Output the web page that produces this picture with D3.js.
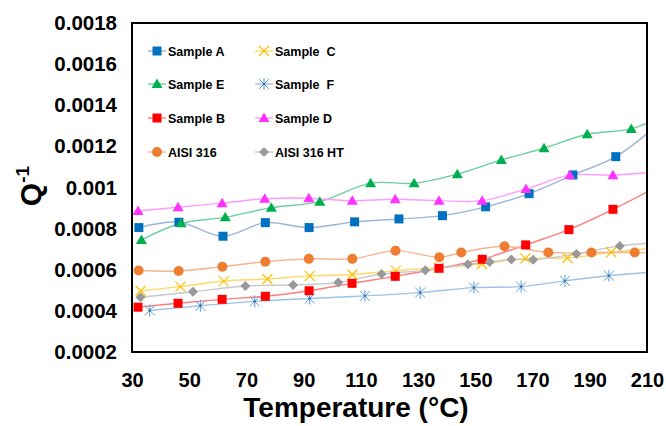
<!DOCTYPE html>
<html><head><meta charset="utf-8">
<script src="https://cdn.jsdelivr.net/npm/d3@7"></script>
<style>body{margin:0;background:#fff}svg{display:block}</style>
</head><body>
<svg id="c" width="666" height="426"></svg>
<script>
// ---- data ----
const yTicks = [0.0002, 0.0004, 0.0006, 0.0008, 0.001, 0.0012, 0.0014, 0.0016, 0.0018];
const yTickLabels = ["0.0002","0.0004","0.0006","0.0008","0.001","0.0012","0.0014","0.0016","0.0018"];
const xTicks = [30, 50, 70, 90, 110, 130, 150, 170, 190, 210];

const seriesNames = ["Sample A", "Sample  C", "Sample E", "Sample  F", "Sample B", "Sample D", "AISI 316", "AISI 316 HT"];

const sampleA_T = [32.4, 46.4, 61.8, 76.6, 91.9, 107.8, 123.3, 138.5, 153.6, 168.8, 184.1, 199.1, 215];
const sampleA_Q = [0.000805, 0.000831, 0.000763, 0.000829, 0.000805, 0.000833, 0.000847, 0.000863, 0.000906, 0.00097, 0.001061, 0.00115, 0.00132];

const sampleC_T = [33.0, 46.9, 62.1, 77.3, 92.1, 107.0, 122.2, 137.3, 152.3, 167.5, 182.2, 197.5, 215];
const sampleC_Q = [0.000498, 0.000518, 0.000545, 0.000555, 0.00057, 0.000577, 0.000596, 0.000611, 0.000628, 0.000655, 0.000657, 0.000685, 0.000708];

const sampleE_T = [33.3, 47.2, 62.6, 78.7, 95.6, 113.4, 128.6, 143.7, 159.1, 174.0, 189.1, 204.5, 215];
const sampleE_Q = [0.000745, 0.000826, 0.000855, 0.000902, 0.000931, 0.001021, 0.001021, 0.001065, 0.001134, 0.001191, 0.001259, 0.001285, 0.001344];

const sampleF_T = [36.2, 53.9, 72.9, 92.1, 111.4, 130.7, 149.5, 166.0, 181.3, 196.7, 215];
const sampleF_Q = [0.000402, 0.000425, 0.000446, 0.00046, 0.000473, 0.000489, 0.000513, 0.000518, 0.000546, 0.000571, 0.000592];

const sampleB_T = [32.1, 46.1, 61.5, 76.6, 91.9, 106.9, 122.0, 137.3, 152.4, 167.6, 182.7, 198.1, 215];
const sampleB_Q = [0.000418, 0.000437, 0.000456, 0.000471, 0.000498, 0.000534, 0.000568, 0.000607, 0.000651, 0.000721, 0.000795, 0.000894, 0.001015];

const sampleD_T = [32.1, 46.1, 61.5, 76.4, 91.8, 107.0, 122.0, 137.3, 152.4, 167.7, 183.0, 198.1, 215];
const sampleD_Q = [0.000886, 0.000904, 0.000924, 0.000945, 0.000948, 0.000935, 0.000943, 0.000936, 0.000936, 0.000993, 0.00106, 0.00106, 0.001078];

const aisi316_T = [32.3, 46.3, 61.6, 76.6, 91.8, 107.0, 122.1, 137.4, 145.1, 160.2, 175.5, 190.6, 205.7, 215];
const aisi316_Q = [0.000596, 0.000594, 0.000615, 0.000639, 0.000653, 0.000653, 0.000693, 0.000661, 0.000684, 0.000714, 0.000684, 0.000684, 0.000684, 0.000684];

const aisi316HT_T = [33.0, 51.3, 69.6, 86.3, 102.1, 117.2, 132.5, 147.4, 155.0, 162.6, 170.2, 185.3, 200.5, 215];
const aisi316HT_Q = [0.000466, 0.000493, 0.000521, 0.000526, 0.000538, 0.000579, 0.000597, 0.000627, 0.000638, 0.00065, 0.000649, 0.000677, 0.000716, 0.000731];

const markerColors = ["#0070C0", "#FFC000", "#00B050", "#5B9BD5", "#FF0000", "#FF33FF", "#ED7D31", "#999999"];
const lineColors   = ["#9DB4DA", "#FFD966", "#6DCF9C", "#9DC3E6", "#FF7C7C", "#FF9CFF", "#F6B48E", "#C9C9C9"];
const markerShapes = ["square", "x", "triangle", "asterisk", "square", "triangle", "circle", "diamond"];

const seriesT = [sampleA_T, sampleC_T, sampleE_T, sampleF_T, sampleB_T, sampleD_T, aisi316_T, aisi316HT_T];
const seriesQ = [sampleA_Q, sampleC_Q, sampleE_Q, sampleF_Q, sampleB_Q, sampleD_Q, aisi316_Q, aisi316HT_Q];

// ---- layout ----
const svg = d3.select("#c");
const L = 132, R = 647, T = 23, B = 352;
const x = d3.scaleLinear().domain([30, 210]).range([L, R]);
const y = d3.scaleLinear().domain([0.0002, 0.0018]).range([B, T]);
const FONT = "'Liberation Sans', Arial, sans-serif";

svg.append("defs").append("clipPath").attr("id", "pc")
  .append("rect").attr("x", L).attr("y", T).attr("width", R - L).attr("height", B - T);

function drawMarker(g, shape, cx, cy, color) {
  if (shape === "square") {
    g.append("rect").attr("x", cx - 4.5).attr("y", cy - 4.5).attr("width", 9).attr("height", 9).attr("fill", color);
  } else if (shape === "triangle") {
    g.append("path").attr("d", `M${cx},${cy - 5.5}L${cx + 5.5},${cy + 4}L${cx - 5.5},${cy + 4}Z`).attr("fill", color);
  } else if (shape === "circle") {
    g.append("circle").attr("cx", cx).attr("cy", cy).attr("r", 5).attr("fill", color);
  } else if (shape === "diamond") {
    g.append("path").attr("d", `M${cx},${cy - 5}L${cx + 5},${cy}L${cx},${cy + 5}L${cx - 5},${cy}Z`).attr("fill", color);
  } else if (shape === "x") {
    g.append("path").attr("d", `M${cx - 5},${cy - 5}L${cx + 5},${cy + 5}M${cx - 5},${cy + 5}L${cx + 5},${cy - 5}`)
      .attr("stroke", color).attr("stroke-width", 1.2).attr("fill", "none");
  } else if (shape === "asterisk") {
    g.append("path").attr("d", `M${cx - 5},${cy - 5}L${cx + 5},${cy + 5}M${cx - 5},${cy + 5}L${cx + 5},${cy - 5}M${cx},${cy - 6}L${cx},${cy + 6}`)
      .attr("stroke", color).attr("stroke-width", 1).attr("fill", "none");
    g.append("circle").attr("cx", cx).attr("cy", cy).attr("r", 1.2).attr("fill", "#2E75B6");
  }
}

// ---- series ----
const plot = svg.append("g").attr("clip-path", "url(#pc)");
const line = d3.line().x(d => x(d[0])).y(d => y(d[1])).curve(d3.curveCatmullRom.alpha(0.5));
seriesT.forEach((ts, i) => {
  const pts = ts.map((t, j) => [t, seriesQ[i][j]]);
  plot.append("path").attr("d", line(pts)).attr("fill", "none")
    .attr("stroke", lineColors[i]).attr("stroke-width", 1.4);
});
seriesT.forEach((ts, i) => {
  const g = plot.append("g");
  ts.forEach((t, j) => drawMarker(g, markerShapes[i], x(t), y(seriesQ[i][j]), markerColors[i]));
});

// ---- frame ----
svg.append("rect").attr("x", L).attr("y", T).attr("width", R - L).attr("height", B - T)
  .attr("fill", "none").attr("stroke", "#000").attr("stroke-width", 2);

// ---- axes (labels only, no tick marks) ----
const yAxis = d3.axisLeft(y).tickValues(yTicks).tickFormat((d, i) => yTickLabels[i]).tickSize(0).tickPadding(15);
const ya = svg.append("g").attr("transform", `translate(${L},0)`).call(yAxis);
ya.select(".domain").remove();
ya.selectAll("text").attr("font-family", FONT).attr("font-weight", "bold").attr("font-size", 20.5).attr("fill", "#000");

const xAxis = d3.axisBottom(x).tickValues(xTicks).tickFormat(d3.format("d")).tickSize(0).tickPadding(21);
const xa = svg.append("g").attr("transform", `translate(0,${B})`).call(xAxis);
xa.select(".domain").remove();
xa.selectAll("text").attr("font-family", FONT).attr("font-weight", "bold").attr("font-size", 20).attr("fill", "#000");

// ---- titles ----
svg.append("text").attr("x", 356).attr("y", 417).attr("text-anchor", "middle")
  .attr("font-family", FONT).attr("font-weight", "bold").attr("font-size", 28).text("Temperature (°C)");

const yt = svg.append("text").attr("transform", "translate(41,186) rotate(-90)").attr("text-anchor", "middle")
  .attr("font-family", FONT).attr("font-weight", "bold").attr("font-size", 30);
yt.append("tspan").text("Q");
yt.append("tspan").attr("font-size", 19).attr("dy", -12).text("-1");

// ---- legend ----
const legX = [148, 255], legY = [51, 84, 118, 152];
seriesNames.forEach((name, i) => {
  const cx0 = legX[i % 2], cy0 = legY[Math.floor(i / 2)];
  const g = svg.append("g");
  g.append("line").attr("x1", cx0).attr("x2", cx0 + 18).attr("y1", cy0).attr("y2", cy0)
    .attr("stroke", lineColors[i]).attr("stroke-width", 1.4);
  drawMarker(g, markerShapes[i], cx0 + 9, cy0, markerColors[i]);
  g.append("text").attr("x", cx0 + 20).attr("y", cy0 + 4.5).attr("xml:space", "preserve")
    .style("white-space", "pre")
    .attr("font-family", FONT).attr("font-weight", "bold").attr("font-size", 12.5).text(name);
});
</script>
</body></html>
